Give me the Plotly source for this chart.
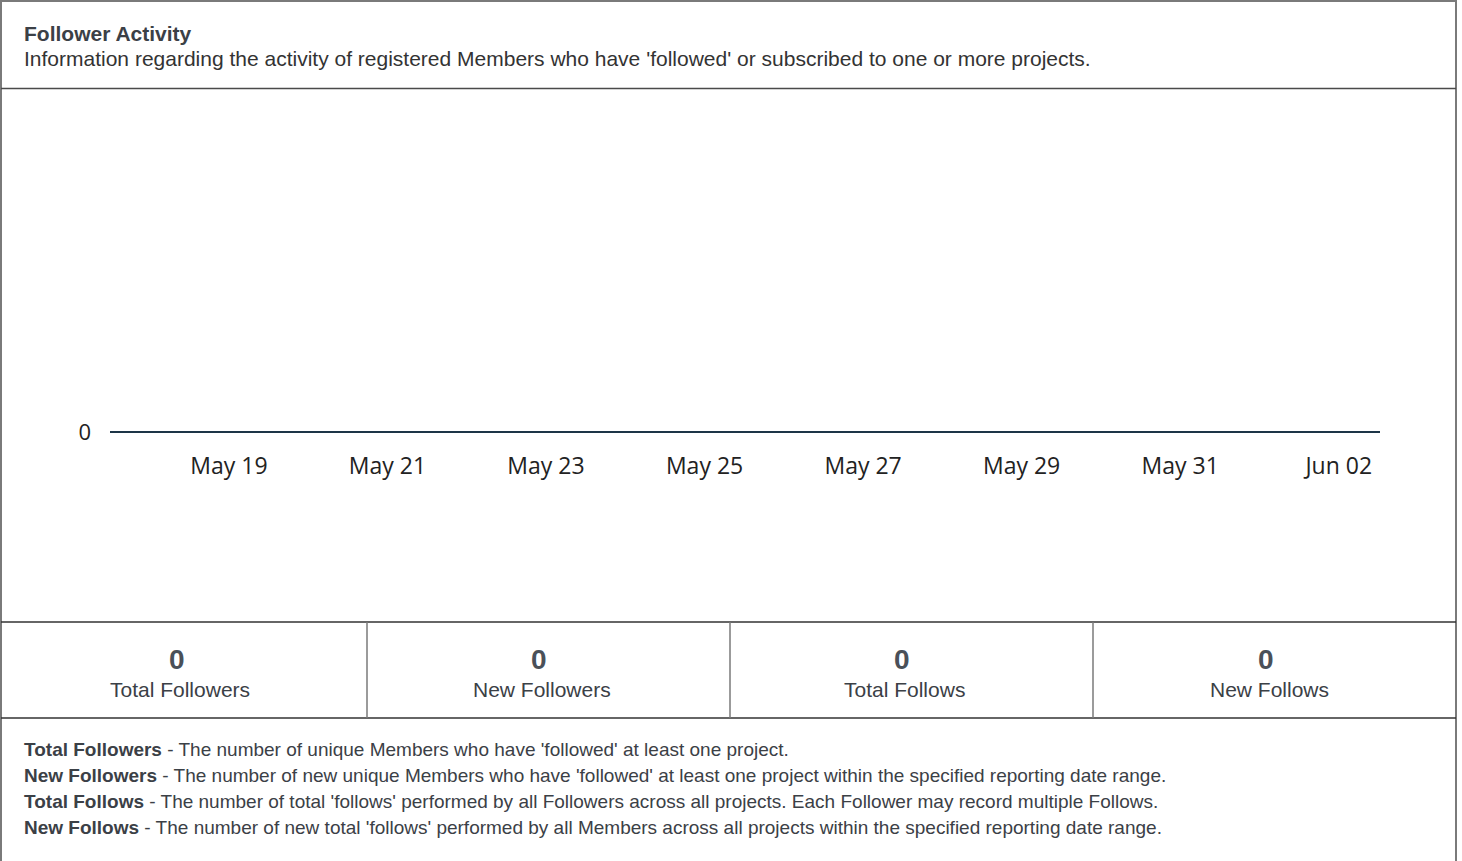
import plotly.graph_objects as go
import pandas as pd

# ---- data ----
dates = pd.date_range("2023-05-17", "2023-06-03", freq="D")
followers = [0] * len(dates)

stat_values = [0, 0, 0, 0]
stat_labels = ["Total Followers", "New Followers", "Total Follows", "New Follows"]

title = "Follower Activity"
subtitle = "Information regarding the activity of registered Members who have 'followed' or subscribed to one or more projects."

def_terms = ["Total Followers", "New Followers", "Total Follows", "New Follows"]
def_texts = [
    "The number of unique Members who have 'followed' at least one project.",
    "The number of new unique Members who have 'followed' at least one project within the specified reporting date range.",
    "The number of total 'follows' performed by all Followers across all projects. Each Follower may record multiple Follows.",
    "The number of new total 'follows' performed by all Members across all projects within the specified reporting date range.",
]

W, H = 1462, 861
def px(x):
    return x / W
def py(y):
    return 1 - y / H

fig = go.Figure()
fig.add_trace(go.Scatter(
    x=dates, y=followers, mode="lines",
    line=dict(color="#1d3547", width=2),
    hoverinfo="x+y", showlegend=False,
))

TEXT = "#3b4046"
ARIAL = "Liberation Sans, Arial, sans-serif"

zero_y = 432
fig.update_layout(
    width=W, height=H,
    margin=dict(l=0, r=0, t=0, b=0),
    paper_bgcolor="white", plot_bgcolor="white",
    xaxis=dict(
        domain=[px(110), px(1380)],
        type="date",
        range=["2023-05-17 12:00", "2023-06-02 12:30"],
        tick0="2023-05-19", dtick=2 * 86400000,
        tickformat="%b %d",
        showgrid=False, zeroline=False, showline=False, ticks="",
        anchor="free", position=py(zero_y),
        ticklabelstandoff=18,
        tickfont=dict(family="Open Sans, sans-serif", size=23, color="#222"),
    ),
    yaxis=dict(
        domain=[py(zero_y + 180), py(zero_y - 180)],
        range=[-1, 1],
        tickvals=[0], ticktext=["0"],
        showgrid=False, zeroline=False, showline=False, ticks="",
        ticklabelstandoff=18,
        tickfont=dict(family="Open Sans, sans-serif", size=22, color="#222"),
    ),
)

shapes = []
BORDER = "#7a7a7a"
DARK = "#4a4a4a"
def line(x0, y0, x1, y1, color, w):
    shapes.append(dict(type="line", xref="paper", yref="paper",
                       x0=px(x0), y0=py(y0), x1=px(x1), y1=py(y1),
                       line=dict(color=color, width=w)))
# outer frame
line(1, 0, 1, H, BORDER, 2)
line(1456, 0, 1456, H, BORDER, 2)
line(0, 1, 1457, 1, BORDER, 2)
# header divider
line(1, 88.5, 1456, 88.5, DARK, 1.5)
# stats box
line(1, 622, 1456, 622, "#333", 1.5)
line(1, 718, 1456, 718, "#333", 1.5)
for xd in [367, 730, 1093]:
    line(xd, 622, xd, 718, BORDER, 1.5)
fig.update_layout(shapes=shapes)

ann = []
ann.append(dict(text="<b>" + title + "</b>", x=px(22), y=py(33), xref="paper", yref="paper",
                xanchor="left", yanchor="middle", showarrow=False,
                font=dict(family=ARIAL, size=21, color=TEXT)))
ann.append(dict(text=subtitle, x=px(22), y=py(59), xref="paper", yref="paper",
                xanchor="left", yanchor="middle", showarrow=False,
                font=dict(family=ARIAL, size=21, color="#333")))

centers = [180, 542, 905, 1269]
for cx, v, lab in zip(centers, stat_values, stat_labels):
    ann.append(dict(text="<b>%d</b>" % v, x=px(cx - 3), y=py(659), xref="paper", yref="paper",
                    xanchor="center", yanchor="middle", showarrow=False,
                    font=dict(family=ARIAL, size=28, color="#4a5058")))
    ann.append(dict(text=lab, x=px(cx), y=py(689), xref="paper", yref="paper",
                    xanchor="center", yanchor="middle", showarrow=False,
                    font=dict(family=ARIAL, size=21, color=TEXT)))

for i, (term, txt) in enumerate(zip(def_terms, def_texts)):
    ann.append(dict(text="<b>" + term + "</b> - " + txt, x=px(22), y=py(749 + 26 * i),
                    xref="paper", yref="paper", xanchor="left", yanchor="middle",
                    showarrow=False, font=dict(family=ARIAL, size=19, color=TEXT)))

fig.update_layout(annotations=ann)
fig.write_html("out.html", config={"displayModeBar": False},
               post_script="document.body.style.margin='0';")
